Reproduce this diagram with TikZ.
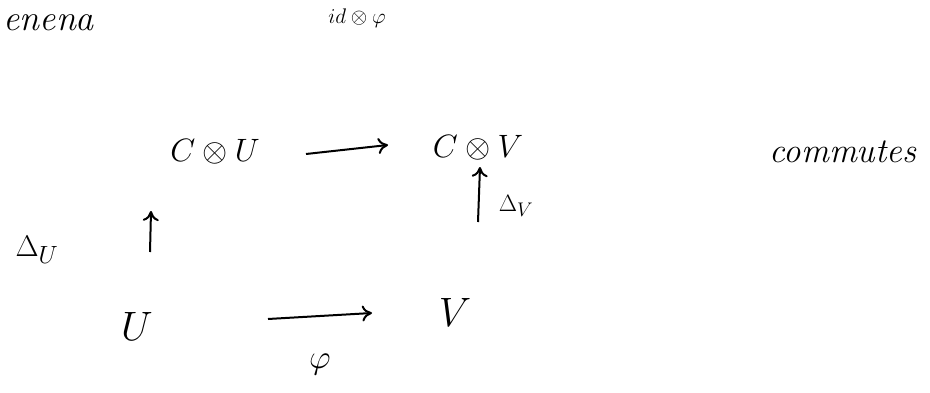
\documentclass[tikz,border=0pt]{standalone}
\usepackage{amsmath}
\usetikzlibrary{arrows.meta}
\begin{document}
\begin{tikzpicture}[x=1pt,y=1pt,
  obj/.style={inner sep=0pt,font=\Huge,scale=1.3},
  big/.style={inner sep=0pt,font=\Huge,scale=1.65},
  lbl/.style={inner sep=0pt,font=\Huge,scale=0.95},
  lblb/.style={inner sep=0pt,font=\Huge,scale=1.2},
  small/.style={inner sep=0pt,font=\Huge,scale=0.85},
  greek/.style={inner sep=0pt,font=\Huge,scale=1.35},
  word/.style={inner sep=0pt,font=\Huge\itshape,scale=1.4},
  wordb/.style={inner sep=1pt,font=\Huge\itshape,scale=1.45},
  arr/.style={line width=2pt,-{To[length=10pt,width=16pt]}}]
\useasboundingbox (0,0) rectangle (930,392);
\node[wordb,anchor=west] (lem) at (2,369) {enena};
\node[small] (idphi) at (357,374) {$id\otimes\varphi$};
\node[obj] (CU) at (215,240) {$C\otimes U$};
\node[obj] (CV) at (478,244) {$C\otimes V$};
\node[word] (comm) at (843,240) {commutes};
\node[big] (U) at (137,66) {$U$};
\node[big] (V) at (455,80) {$V$};
\node[lblb] (DU) at (37,142) {$\Delta_U$};
\node[lbl] (DV) at (516,186) {$\Delta_V$};
\node[greek] (phi) at (320,27) {$\varphi$};
\coordinate (a1) at (306,238); \coordinate (a2) at (388,247);
\draw[arr] (a1) -- (a2);
\coordinate (b1) at (268,73); \coordinate (b2) at (372,79);
\draw[arr] (b1) -- (b2);
\coordinate (c1) at (150,140); \coordinate (c2) at (151,181);
\draw[arr] (c1) -- (c2);
\coordinate (d1) at (478,170); \coordinate (d2) at (480,225);
\draw[arr] (d1) -- (d2);
\end{tikzpicture}
\end{document}
